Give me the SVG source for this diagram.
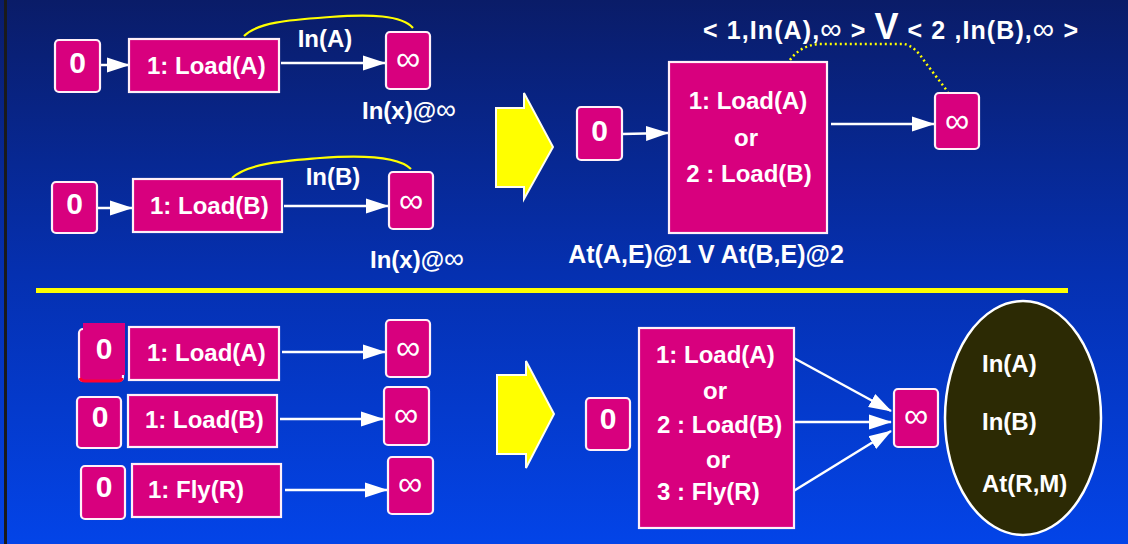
<svg xmlns="http://www.w3.org/2000/svg" width="1128" height="544" viewBox="0 0 1128 544">
<defs>
<linearGradient id="bg" x1="0" y1="0" x2="0" y2="1">
<stop offset="0" stop-color="#0a1c68"/>
<stop offset="0.5" stop-color="#0530b0"/>
<stop offset="1" stop-color="#0344e8"/>
</linearGradient>
<marker id="ah" markerUnits="userSpaceOnUse" markerWidth="24" markerHeight="16" refX="22" refY="8" orient="auto">
<path d="M0,0.5 L23,8 L0,15.5 z" fill="#ffffff"/>
</marker>
</defs>
<style>
.bx{fill:#d8007e;stroke:#fff0f8;stroke-width:2.2}
.t{font-family:"Liberation Sans",Arial,sans-serif;font-weight:bold;fill:#ffffff}
.inf{font-family:"Liberation Sans",Arial,sans-serif;font-weight:normal;fill:#ffffff;font-size:34px}
.cn{stroke:#ffffff;stroke-width:2.5;fill:none;marker-end:url(#ah)}
.bigarrow{fill:#ffff00;stroke:#fffff0;stroke-width:2}
</style>
<rect x="0" y="0" width="1128" height="544" fill="url(#bg)"/>
<rect x="4" y="0" width="3" height="544" fill="#1a1a1a"/>

<g id="connectors">
<line class="cn" x1="100" y1="65" x2="129" y2="65"/>
<line class="cn" x1="281" y1="63" x2="385" y2="63"/>
<line class="cn" x1="97" y1="208" x2="132" y2="208"/>
<line class="cn" x1="284" y1="206" x2="388" y2="206"/>
<line class="cn" x1="622" y1="134" x2="668" y2="133"/>
<line class="cn" x1="831" y1="124" x2="934" y2="124"/>
<line class="cn" x1="282" y1="352" x2="385" y2="352"/>
<line class="cn" x1="280" y1="419" x2="383" y2="419"/>
<line class="cn" x1="285" y1="490" x2="387" y2="490"/>
<line class="cn" x1="792" y1="357" x2="891" y2="411"/>
<line class="cn" x1="792" y1="422" x2="891" y2="422"/>
<line class="cn" x1="792" y1="492" x2="891" y2="431"/>
<path d="M244,36 C258,22 290,20 330,17 C370,14 402,15 413,28" fill="none" stroke="#ffff00" stroke-width="2.2"/>
<path d="M232,178 C248,163 285,161 320,158 C360,155 398,156 411,169" fill="none" stroke="#ffff00" stroke-width="2.2"/>
<path d="M790,60 Q800,46 818,44 L904,44 Q915,46 925,62 L948,92" fill="none" stroke="#ffff00" stroke-width="2.5" stroke-dasharray="2,3"/>
</g>

<g id="divider"><rect x="36" y="288" width="1032" height="5" fill="#ffff00"/></g>

<g id="bigArrowTop"><path class="bigarrow" d="M496,108 L524,108 L524,93 L553,147 L524,199 L524,187 L496,187 z"/></g>
<g id="bigArrowBottom"><path class="bigarrow" d="M497,375 L526,375 L526,361 L554,414 L526,468 L526,454 L497,454 z"/></g>

<!-- top-left group A -->
<g id="a0"><rect class="bx" x="55" y="40" width="45" height="52" rx="4"/><text class="t" x="77.5" y="73" font-size="30" text-anchor="middle">0</text></g>
<g id="aLoad"><rect class="bx" x="129" y="39" width="150" height="53"/><text class="t" x="147" y="74" font-size="24">1: Load(A)</text></g>
<g id="aInf"><rect class="bx" x="386" y="32" width="44" height="57" rx="4"/><text class="inf" x="408" y="70" text-anchor="middle">∞</text></g>
<g id="aLabels"><text class="t" x="325" y="47" font-size="24" text-anchor="middle">In(A)</text><text class="t" x="362" y="119" font-size="24">In(x)@<tspan font-weight="normal" font-size="28">∞</tspan></text></g>

<!-- top-left group B -->
<g id="b0"><rect class="bx" x="52" y="182" width="45" height="51" rx="4"/><text class="t" x="74.5" y="214" font-size="30" text-anchor="middle">0</text></g>
<g id="bLoad"><rect class="bx" x="133" y="179" width="149" height="53"/><text class="t" x="150" y="214" font-size="24">1: Load(B)</text></g>
<g id="bInf"><rect class="bx" x="389" y="172" width="44" height="57" rx="4"/><text class="inf" x="411" y="212" text-anchor="middle">∞</text></g>
<g id="bLabels"><text class="t" x="333" y="185" font-size="24" text-anchor="middle">In(B)</text><text class="t" x="370" y="268" font-size="24">In(x)@<tspan font-weight="normal" font-size="28">∞</tspan></text></g>

<!-- top-right -->
<g id="c0"><rect class="bx" x="577" y="107" width="45" height="53" rx="4"/><text class="t" x="599.5" y="141" font-size="30" text-anchor="middle">0</text></g>
<g id="cBig"><rect class="bx" x="669" y="62" width="158" height="171"/>
<text class="t" x="748" y="109" font-size="24" text-anchor="middle">1: Load(A)</text>
<text class="t" x="746" y="146" font-size="24" text-anchor="middle">or</text>
<text class="t" x="749" y="182" font-size="24" text-anchor="middle">2 : Load(B)</text></g>
<g id="cInf"><rect class="bx" x="935" y="93" width="44" height="56" rx="4"/><text class="inf" x="957" y="132" text-anchor="middle">∞</text></g>
<g id="cLabels">
<text class="t" x="703" y="39" font-size="25" textLength="375" lengthAdjust="spacing">&lt; 1,In(A),<tspan font-weight="normal" font-size="30">∞</tspan> &gt; <tspan font-size="36">V</tspan> &lt; 2 ,In(B),<tspan font-weight="normal" font-size="30">∞</tspan> &gt;</text>
<text class="t" x="706" y="263" font-size="25" text-anchor="middle">At(A,E)@1 V At(B,E)@2</text>
</g>

<!-- bottom-left rows -->
<g id="d0"><rect class="bx" x="79" y="329" width="44" height="52" rx="4"/><path d="M80,378 Q81,381 85,381 L117,381 Q122,381 122,378" fill="none" stroke="#ff0030" stroke-width="3"/><rect x="83" y="323" width="42" height="52" fill="#d8007e"/><text class="t" x="104" y="359" font-size="30" text-anchor="middle">0</text></g>
<g id="dLoad"><rect class="bx" x="129" y="327" width="150" height="53"/><text class="t" x="147" y="361" font-size="24">1: Load(A)</text></g>
<g id="dInf"><rect class="bx" x="386" y="320" width="44" height="57" rx="4"/><text class="inf" x="408" y="359" text-anchor="middle">∞</text></g>

<g id="e0"><rect class="bx" x="77" y="397" width="44" height="51" rx="4"/><text class="t" x="100" y="427" font-size="30" text-anchor="middle">0</text></g>
<g id="eLoad"><rect class="bx" x="128" y="395" width="149" height="52"/><text class="t" x="145" y="428" font-size="24">1: Load(B)</text></g>
<g id="eInf"><rect class="bx" x="384" y="387" width="45" height="58" rx="4"/><text class="inf" x="406" y="426" text-anchor="middle">∞</text></g>

<g id="f0"><rect class="bx" x="81" y="466" width="44" height="53" rx="4"/><text class="t" x="104" y="497" font-size="30" text-anchor="middle">0</text></g>
<g id="fFly"><rect class="bx" x="132" y="464" width="149" height="53"/><text class="t" x="148" y="498" font-size="24">1: Fly(R)</text></g>
<g id="fInf"><rect class="bx" x="388" y="457" width="45" height="57" rx="4"/><text class="inf" x="410" y="495" text-anchor="middle">∞</text></g>

<!-- bottom-right -->
<g id="g0"><rect class="bx" x="586" y="398" width="44" height="52" rx="4"/><text class="t" x="608" y="429" font-size="30" text-anchor="middle">0</text></g>
<g id="gBig"><rect class="bx" x="639" y="328" width="155" height="200"/>
<text class="t" x="656" y="363" font-size="24">1: Load(A)</text>
<text class="t" x="715" y="399" font-size="24" text-anchor="middle">or</text>
<text class="t" x="657" y="433" font-size="24">2 : Load(B)</text>
<text class="t" x="718" y="468" font-size="24" text-anchor="middle">or</text>
<text class="t" x="657" y="500" font-size="24">3 : Fly(R)</text></g>
<g id="gInf"><rect class="bx" x="894" y="389" width="44" height="58" rx="4"/><text class="inf" x="916" y="427" text-anchor="middle">∞</text></g>
<g id="gGoal"><ellipse cx="1023" cy="418" rx="78" ry="117" fill="#2c2a04" stroke="#ffffff" stroke-width="2.5"/>
<text class="t" x="982" y="372" font-size="24">In(A)</text>
<text class="t" x="982" y="430" font-size="24">In(B)</text>
<text class="t" x="982" y="492" font-size="24">At(R,M)</text></g>
</svg>
